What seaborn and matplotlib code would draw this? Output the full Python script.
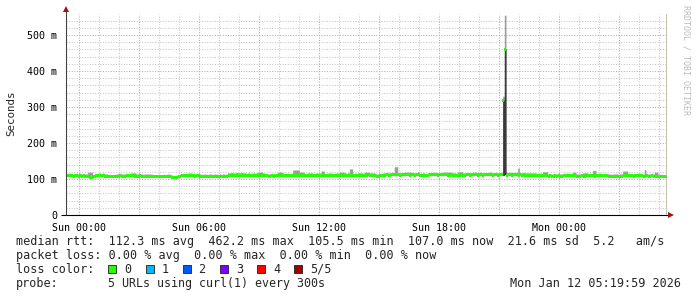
import numpy as np
import matplotlib
matplotlib.use("Agg")
import matplotlib.pyplot as plt
from matplotlib.path import Path
from matplotlib.patches import Rectangle
import pandas as pd
import seaborn as sns

# ---------------- data (5-minute steps, starting Sat 23:20) ----------------
STEP_MIN = 5
START_HOUR = -40 / 60.0  # relative to Sun 00:00

rtt_median = [
    110, 111, 110, 110, 109, 110, 110, 109, 110, 109, 110, 109,
    109, 107, 106, 106, 107, 109, 110, 110, 111, 110, 110, 109,
    109, 108, 108, 107, 108, 108, 109, 109, 110, 109, 109, 109,
    110, 110, 111, 110, 110, 109, 109, 109, 110, 109, 108, 109,
    109, 109, 109, 108, 108, 107, 107, 108, 107, 107, 108, 107,
    108, 109, 108, 106, 105.5, 105.5, 106, 107, 109, 110, 110, 111,
    110, 110, 111, 110, 110, 109, 110, 110, 109, 108, 108, 109,
    108, 108, 109, 108, 108, 109, 108, 108, 109, 108, 109, 108,
    109, 110, 110, 111, 110, 110, 111, 110, 110, 111, 110, 111,
    111, 112, 111, 111, 112, 111, 112, 112, 111, 112, 112, 111,
    110, 109, 109, 110, 109, 110, 111, 111, 112, 111, 111, 110,
    111, 111, 110, 111, 112, 111, 110, 111, 111, 112, 111, 111,
    111, 112, 111, 110, 111, 111, 112, 111, 111, 112, 111, 110,
    111, 111, 112, 111, 110, 111, 112, 111, 111, 110, 111, 112,
    111, 112, 111, 111, 110, 111, 111, 112, 111, 110, 111, 112,
    112, 113, 112, 112, 112, 111, 109, 109, 110, 110, 112, 112,
    113, 112, 112, 113, 113, 114, 113, 113, 112, 113, 113, 114,
    113, 113, 112, 113, 113, 112, 113, 113, 111, 111, 112, 111,
    111, 112, 113, 113, 114, 113, 113, 112, 113, 113, 114, 113,
    113, 112, 112, 113, 112, 112, 111, 112, 112, 113, 112, 112,
    113, 113, 112, 113, 114, 113, 113, 112, 113, 113, 112, 113,
    113, 113, 114, 113, 112, 113, 113, 112, 113, 113, 319, 462.2,
    112, 113, 113, 112, 113, 114, 113, 112, 113, 112, 113, 112,
    112, 112, 111, 111, 112, 111, 111, 110, 111, 111, 111, 110,
    110, 109, 110, 109, 109, 110, 109, 110, 109, 109, 110, 110,
    111, 111, 110, 111, 111, 110, 109, 109, 109, 110, 109, 109,
    110, 110, 111, 110, 110, 109, 110, 110, 111, 110, 110, 110,
    110, 109, 109, 108, 109, 109, 109, 108, 109, 109, 110, 110,
    110, 111, 110, 110, 109, 110, 110, 111, 110, 110, 109, 109,
    110, 109, 109, 110, 109, 109, 108, 109, 108, 108, 107, 107,
]

rtt_max = [
    115, 116, 115, 114, 114, 115, 116, 114, 115, 114, 115, 114,
    114, 119, 119, 119, 112, 115, 115, 116, 116, 115, 116, 114,
    114, 113, 113, 112, 113, 113, 114, 114, 115, 114, 114, 114,
    115, 115, 116, 117, 117, 117, 114, 114, 115, 114, 113, 114,
    114, 114, 114, 113, 113, 112, 112, 113, 112, 112, 113, 112,
    113, 114, 113, 111, 110, 110, 111, 112, 114, 115, 115, 116,
    116, 116, 117, 116, 116, 114, 115, 115, 114, 113, 113, 114,
    113, 113, 114, 113, 113, 114, 113, 113, 114, 113, 114, 113,
    114, 117, 117, 118, 117, 117, 118, 117, 117, 118, 117, 117,
    116, 117, 116, 116, 117, 116, 117, 119, 119, 119, 117, 116,
    115, 114, 114, 115, 114, 115, 116, 119, 119, 119, 116, 115,
    116, 116, 115, 116, 125, 125, 125, 125, 119, 119, 119, 116,
    116, 117, 117, 117, 116, 116, 117, 116, 116, 122, 122, 115,
    116, 116, 117, 116, 115, 116, 117, 116, 119, 119, 119, 117,
    116, 117, 128, 128, 115, 116, 116, 117, 117, 117, 116, 119,
    119, 119, 117, 117, 117, 116, 114, 114, 115, 115, 117, 117,
    118, 117, 117, 118, 118, 134, 134, 118, 117, 118, 118, 119,
    119, 119, 119, 118, 118, 117, 118, 120, 116, 116, 117, 116,
    116, 117, 118, 118, 119, 118, 118, 117, 118, 118, 119, 119,
    119, 119, 119, 118, 117, 117, 116, 120, 120, 120, 117, 117,
    118, 118, 117, 118, 119, 119, 118, 118, 119, 118, 117, 118,
    118, 118, 119, 118, 117, 118, 118, 117, 118, 118, 330, 555,
    118, 118, 119, 118, 118, 119, 118, 130, 118, 117, 118, 117,
    117, 117, 117, 117, 117, 117, 116, 115, 116, 116, 120, 120,
    120, 114, 115, 114, 114, 115, 114, 115, 114, 114, 115, 115,
    116, 116, 115, 116, 119, 119, 114, 114, 114, 115, 117, 117,
    117, 115, 116, 115, 124, 124, 115, 115, 116, 115, 115, 115,
    115, 114, 114, 113, 114, 114, 114, 113, 114, 114, 122, 122,
    122, 116, 115, 115, 114, 115, 115, 116, 115, 115, 114, 126,
    115, 114, 114, 115, 114, 119, 119, 114, 113, 113, 112, 112,
]

rtt_min = [
    108, 109, 108, 108, 107, 108, 108, 107, 108, 107, 108, 107,
    107, 105, 104, 104, 105, 107, 108, 108, 109, 108, 108, 107,
    107, 106, 106, 105, 106, 106, 107, 107, 108, 107, 107, 107,
    108, 108, 109, 108, 108, 107, 107, 107, 108, 107, 106, 107,
    107, 107, 107, 106, 106, 105, 105, 106, 105, 105, 106, 105,
    106, 107, 106, 104, 103.5, 103.5, 104, 105, 107, 108, 108, 109,
    108, 108, 109, 108, 108, 107, 108, 108, 107, 106, 106, 107,
    106, 106, 107, 106, 106, 107, 106, 106, 107, 106, 107, 106,
    107, 108, 108, 109, 108, 108, 109, 108, 108, 109, 108, 109,
    109, 110, 109, 109, 110, 109, 110, 110, 109, 110, 110, 109,
    108, 107, 107, 108, 107, 108, 109, 109, 110, 109, 109, 108,
    109, 109, 108, 109, 110, 109, 108, 109, 109, 110, 109, 109,
    109, 110, 109, 108, 109, 109, 110, 109, 109, 110, 109, 108,
    109, 109, 110, 109, 108, 109, 110, 109, 109, 108, 109, 110,
    109, 110, 109, 109, 108, 109, 109, 110, 109, 108, 109, 110,
    110, 111, 110, 110, 110, 109, 107, 107, 108, 108, 110, 110,
    111, 110, 110, 111, 111, 112, 111, 111, 110, 111, 111, 112,
    111, 111, 110, 111, 111, 110, 111, 111, 109, 109, 110, 109,
    109, 110, 111, 111, 112, 111, 111, 110, 111, 111, 112, 111,
    111, 110, 110, 111, 110, 110, 109, 110, 110, 111, 110, 110,
    111, 111, 110, 111, 112, 111, 111, 110, 111, 111, 110, 111,
    111, 111, 112, 111, 110, 111, 111, 110, 111, 111, 110, 112,
    110, 111, 111, 110, 111, 112, 111, 110, 111, 110, 111, 110,
    110, 110, 109, 109, 110, 109, 109, 108, 109, 109, 109, 108,
    108, 107, 108, 107, 107, 108, 107, 108, 107, 107, 108, 108,
    109, 109, 108, 109, 109, 108, 107, 107, 107, 108, 107, 107,
    108, 108, 109, 108, 108, 107, 108, 108, 109, 108, 108, 108,
    108, 107, 107, 106, 107, 107, 107, 106, 107, 107, 108, 108,
    108, 109, 108, 108, 107, 108, 108, 109, 108, 108, 107, 107,
    108, 107, 107, 108, 107, 107, 106, 107, 106, 106, 105, 105,
]

x_tick_hours = [0, 6, 12, 18, 24]
x_tick_labels = ["Sun 00:00", "Sun 06:00", "Sun 12:00", "Sun 18:00", "Mon 00:00"]
y_ticks = [0, 100, 200, 300, 400, 500]
y_tick_labels = ["0", "100 m", "200 m", "300 m", "400 m", "500 m"]

line_rtt = "median rtt:  112.3 ms avg  462.2 ms max  105.5 ms min  107.0 ms now  21.6 ms sd  5.2   am/s"
line_loss = "packet loss: 0.00 % avg  0.00 % max  0.00 % min  0.00 % now"
loss_title = "loss color:"
loss_labels = ["0", "1", "2", "3", "4", "5/5"]
loss_colors = ["#26ff00", "#00b8ff", "#0059ff", "#7e00ff", "#ff0000", "#a10000"]
probe_title = "probe:"
probe_text = "5 URLs using curl(1) every 300s"
stamp_text = "Mon Jan 12 05:19:59 2026"

# ---------------- figure ----------------
sns.set_theme(style="white")
plt.rcParams["font.family"] = ["DejaVu Sans Mono", "DejaVu Sans"]

W, H = 697, 297
fig = plt.figure(figsize=(W / 100, H / 100), dpi=100, facecolor="white")
L, R, B, T = 66, 666, 215, 14
ax = fig.add_axes([L / W, 1 - B / H, (R - L) / W, (B - T) / H])
ax.set_facecolor("white")

n = len(rtt_median)
step_h = STEP_MIN / 60.0
edges = START_HOUR + np.arange(n + 1) * step_h
centers = START_HOUR + (np.arange(n) + 0.5) * step_h

x_lo, x_hi = START_HOUR, START_HOUR + 30
y_top = (B - T) / 0.36
ax.set_xlim(x_lo, x_hi)
ax.set_ylim(0, y_top)

# grid
minor_x = [h for h in range(0, 30) if h % 3 != 0]
major_x = [h for h in range(0, 30, 3)]
minor_y = [v for v in range(20, 560, 20) if v % 100 != 0]
major_y = [100, 200, 300, 400, 500]
dots = (0, (1, 1.5))
ax.vlines(minor_x, 0, y_top, colors="#c8c8c8", linewidth=0.75, linestyles=dots, zorder=0)
ax.hlines(minor_y, x_lo, x_hi, colors="#c8c8c8", linewidth=0.75, linestyles=dots, zorder=0)
ax.vlines(major_x, 0, y_top, colors="#e09a9a", linewidth=0.75, linestyles=dots, zorder=0.5)
ax.hlines(major_y, x_lo, x_hi, colors="#e09a9a", linewidth=0.75, linestyles=dots, zorder=0.5)

# smoke
mx = np.append(rtt_max, rtt_max[-1])
mn = np.append(rtt_min, rtt_min[-1])
md = np.append(rtt_median, rtt_median[-1])
ax.fill_between(edges, mn, mx, step="post", color="#9c9c9c", linewidth=0, zorder=2)
ax.fill_between(edges, mn, md, step="post", color="#3a3a3a", linewidth=0, zorder=2.5)

# median band (smokeping-style short horizontal bars)
df = pd.DataFrame({"hour": centers, "rtt": rtt_median})
bar = Path([(-0.72, -1), (0.72, -1), (0.72, 1), (-0.72, 1), (-0.72, -1)],
           [Path.MOVETO, Path.LINETO, Path.LINETO, Path.LINETO, Path.CLOSEPOLY])
sns.scatterplot(data=df, x="hour", y="rtt", marker=bar, s=(3.0 * 0.72) ** 2,
                color="#22ff00", linewidth=0, ax=ax, legend=False, zorder=3)

# axes lines and arrows
for s in ax.spines.values():
    s.set_visible(False)
ax.plot([-5 / 600, 1 + 4 / 600], [0, 0], transform=ax.transAxes, color="black",
        lw=0.8, clip_on=False, zorder=5, solid_capstyle="butt")
ax.plot([0, 0], [0, 1 + 3 / 201], transform=ax.transAxes, color="#444444",
        lw=0.8, clip_on=False, zorder=5, solid_capstyle="butt")
ax.plot([1, 1], [0, 1], transform=ax.transAxes, color="#c9c6ae",
        lw=0.8, clip_on=False, zorder=1)
ax.plot([0], [1 + 5 / 201], marker="^", ms=4.2, color="#a01515", transform=ax.transAxes,
        clip_on=False, zorder=6, markeredgewidth=0)
ax.plot([1 + 5 / 600], [0], marker=">", ms=4.2, color="#a01515", transform=ax.transAxes,
        clip_on=False, zorder=6, markeredgewidth=0)

ax.set_xticks(x_tick_hours)
ax.set_xticklabels(x_tick_labels)
ax.set_yticks(y_ticks)
ax.set_yticklabels(y_tick_labels)
ax.tick_params(axis="both", labelsize=7.2, colors="black", length=2.5, width=0.7,
               direction="out", pad=3)
ax.tick_params(axis="y", pad=4)
ax.set_xlabel("")
ax.set_ylabel("")
ax.grid(False)


def P(x, y):
    return x / W, 1 - y / H


fig.text(*P(11, 113), "Seconds", rotation=90, ha="center", va="center", fontsize=7.8)
fig.text(*P(686, 5), "RRDTOOL / TOBI OETIKER", rotation=270, ha="center", va="top",
         fontsize=6.0, color="#bdbdbd")

fs = 8.5
fig.text(*P(16, 245), line_rtt, ha="left", va="baseline", fontsize=fs)
fig.text(*P(16, 259), line_loss, ha="left", va="baseline", fontsize=fs)
fig.text(*P(16, 273), loss_title, ha="left", va="baseline", fontsize=fs)
box_x = [108, 146, 182.5, 220, 257, 294]
for bx, lab, col in zip(box_x, loss_labels, loss_colors):
    fig.patches.append(Rectangle(P(bx, 273), 8 / W, 8 / H, transform=fig.transFigure,
                                 facecolor=col, edgecolor="#202020", linewidth=0.6))
    fig.text(*P(bx + 16, 273), lab, ha="left", va="baseline", fontsize=fs)
fig.text(*P(16, 287), probe_title, ha="left", va="baseline", fontsize=fs)
fig.text(*P(108, 287), probe_text, ha="left", va="baseline", fontsize=fs * 0.98)
fig.text(*P(681, 287), stamp_text, ha="right", va="baseline", fontsize=fs)

fig.savefig("out.png", dpi=100, facecolor="white")
